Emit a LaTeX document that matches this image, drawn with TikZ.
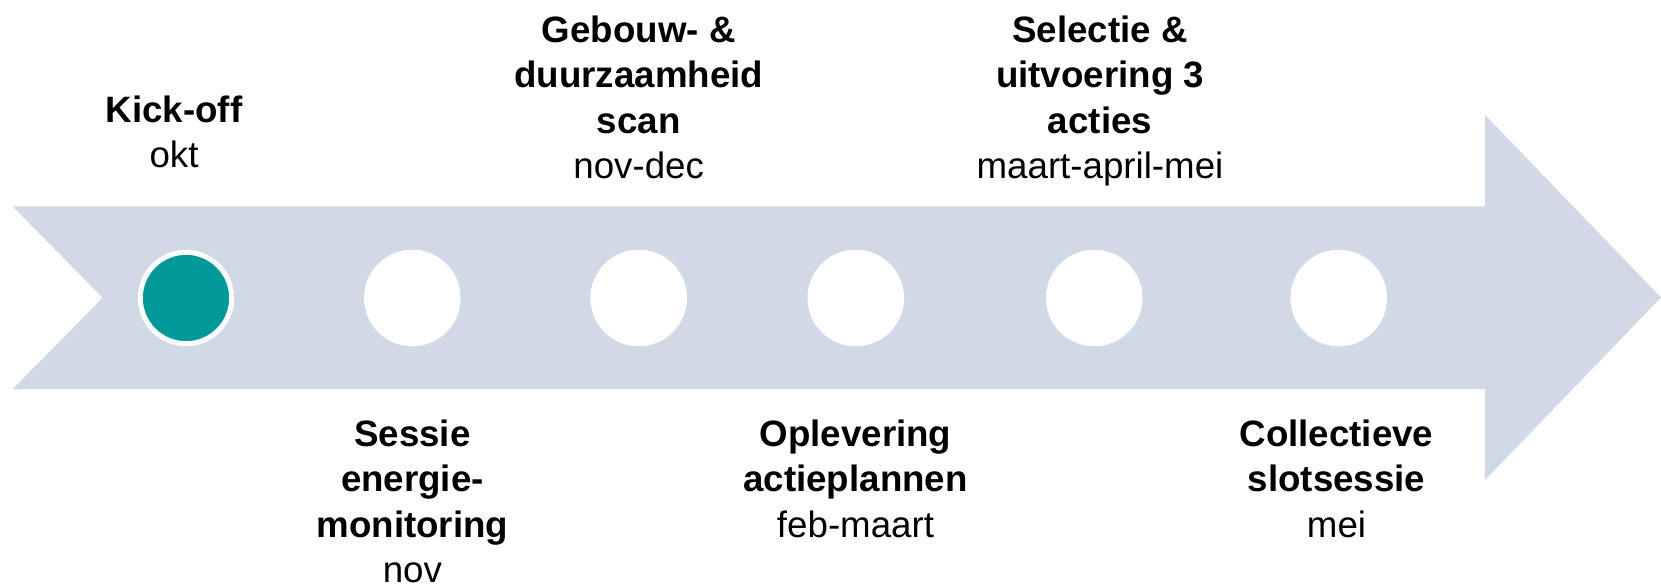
\documentclass[tikz,border=0pt]{standalone}
\usepackage{fontspec}
\setmainfont{Liberation Sans}
\definecolor{arrowfill}{RGB}{209,217,231}
\definecolor{teal1}{RGB}{0,153,153}
\tikzset{
  lbl/.style={align=center, inner sep=0pt, anchor=north, text=black,
    font=\fontsize{36.7}{45.5}\selectfont},
  dot/.style={circle, fill=white, minimum size=96.6pt, inner sep=0pt, draw=none},
  firstdot/.style={circle, fill=teal1, minimum size=91.4pt, inner sep=0pt, draw=white, line width=5pt}
}
\begin{document}
\begin{tikzpicture}[x=1pt, y=-1pt]
\useasboundingbox (0,0) rectangle (1661,585);
\fill[arrowfill] (12.7,206.5) -- (1485,206.5) -- (1485,115) -- (1661,297.5)
  -- (1485,480) -- (1485,389) -- (12.7,389) -- (102.7,297.7) -- cycle;
\node[firstdot] (c1) at (186,298) {};
\node[dot] (c2) at (412.3,298) {};
\node[dot] (c3) at (638.7,298) {};
\node[dot] (c4) at (855.8,298) {};
\node[dot] (c5) at (1094.2,298) {};
\node[dot] (c6) at (1338.7,298) {};
\node[lbl] (t1) at (174,95.5) {\textbf{Kick-off}\\okt};
\node[lbl] (t3) at (638.7,15.5) {\textbf{Gebouw- \&}\\\textbf{duurzaamheid}\\\textbf{scan}\\nov-dec};
\node[lbl] (t5) at (1100,15.5) {\textbf{Selectie \&}\\\textbf{uitvoering 3}\\\textbf{acties}\\maart-april-mei};
\node[lbl] (t2) at (412.4,419.5) {\textbf{Sessie}\\\textbf{energie-}\\\textbf{monitoring}\\nov};
\node[lbl] (t4) at (855.5,419.5) {\textbf{Oplevering}\\\textbf{actieplannen}\\feb-maart};
\node[lbl] (t6) at (1336.5,419.5) {\textbf{Collectieve}\\\textbf{slotsessie}\\mei};
\end{tikzpicture}
\end{document}
